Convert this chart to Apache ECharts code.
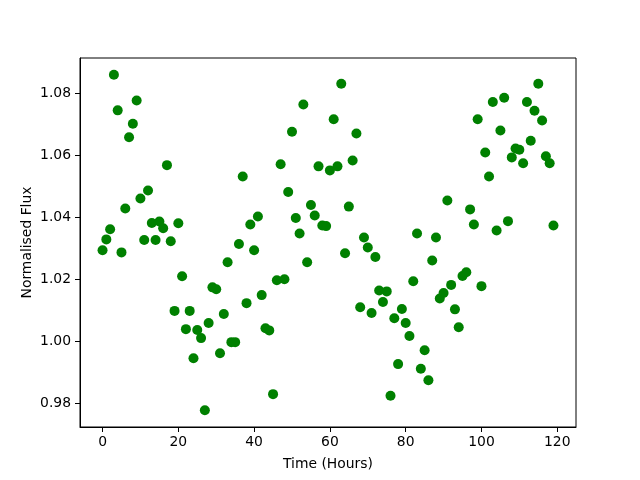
<!DOCTYPE html>
<html>
<head>
<meta charset="utf-8">
<script src="https://cdn.jsdelivr.net/npm/echarts@6/dist/echarts.min.js"></script>
<style>
  html, body { margin: 0; padding: 0; background: #fff; }
  #chart { width: 640px; height: 480px; }
</style>
</head>
<body>
<div id="chart"></div>
<script>
// time of each measurement (hours)
var hours = [
  0, 1, 2, 3, 4, 5, 6, 7, 8, 9, 10, 11, 12, 13, 14, 15, 16, 17, 18, 19,
  20, 21, 22, 23, 24, 25, 26, 27, 28, 29, 30, 31, 32, 33, 34, 35, 36, 37, 38, 39,
  40, 41, 42, 43, 44, 45, 46, 47, 48, 49, 50, 51, 52, 53, 54, 55, 56, 57, 58, 59,
  60, 61, 62, 63, 64, 65, 66, 67, 68, 69, 70, 71, 72, 73, 74, 75, 76, 77, 78, 79,
  80, 81, 82, 83, 84, 85, 86, 87, 88, 89, 90, 91, 92, 93, 94, 95, 96, 97, 98, 99,
  100, 101, 102, 103, 104, 105, 106, 107, 108, 109, 110, 111, 112, 113, 114, 115, 116, 117, 118, 119
];
// normalised flux
var flux = [
  1.0294, 1.0329, 1.0362, 1.0861, 1.0746, 1.0287, 1.0429, 1.0659, 1.0703, 1.0778,
  1.0461, 1.0327, 1.0487, 1.0382, 1.0327, 1.0387, 1.0365, 1.0569, 1.0323, 1.0098,
  1.0381, 1.0210, 1.0039, 1.0098, 0.9945, 1.0036, 1.0010, 0.9777, 1.0059, 1.0174,
  1.0168, 0.9961, 1.0088, 1.0255, 0.9997, 0.9997, 1.0314, 1.0532, 1.0123, 1.0377,
  1.0294, 1.0403, 1.0149, 1.0042, 1.0035, 0.9829, 1.0197, 1.0572, 1.0200, 1.0482,
  1.0677, 1.0398, 1.0348, 1.0765, 1.0255, 1.0440, 1.0406, 1.0565, 1.0374, 1.0372,
  1.0552, 1.0717, 1.0565, 1.0832, 1.0284, 1.0435, 1.0584, 1.0671, 1.0110, 1.0335,
  1.0303, 1.0091, 1.0272, 1.0164, 1.0127, 1.0161, 0.9824, 1.0074, 0.9926, 1.0104,
  1.0059, 1.0017, 1.0194, 1.0348, 0.9911, 0.9971, 0.9874, 1.0261, 1.0335, 1.0138,
  1.0156, 1.0455, 1.0182, 1.0103, 1.0045, 1.0211, 1.0223, 1.0426, 1.0377, 1.0717,
  1.0178, 1.0610, 1.0532, 1.0773, 1.0358, 1.0681, 1.0787, 1.0388, 1.0594, 1.0623,
  1.0619, 1.0575, 1.0773, 1.0648, 1.0745, 1.0832, 1.0713, 1.0598, 1.0575, 1.0374
];
var xTicks = [0, 20, 40, 60, 80, 100, 120];
var yTicks = [0.98, 1.00, 1.02, 1.04, 1.06, 1.08];

var points = hours.map(function (h, i) { return [h, flux[i]]; });

var font = "DejaVu Sans";
var chart = echarts.init(document.getElementById("chart"));
var option = {
  animation: false,
  backgroundColor: "#fff",
  grid: {
    // matplotlib default axes box
    left: 80, right: 64, top: 58, bottom: 53,
    show: true, borderColor: "#000", borderWidth: 1,
    containLabel: false
  },
  xAxis: {
    type: "value",
    min: -5.95, max: 124.95,
    name: "Time (Hours)",
    nameLocation: "middle",
    nameGap: 30,
    nameTextStyle: { fontFamily: font, fontSize: 13.9, color: "#000" },
    axisLine: { show: true, onZero: false, lineStyle: { color: "#000", width: 1 } },
    axisTick: { show: true, length: 5, customValues: xTicks, lineStyle: { color: "#000" } },
    axisLabel: { customValues: xTicks, margin: 8, fontFamily: font, fontSize: 13.9, color: "#000" },
    splitLine: { show: false }
  },
  yAxis: {
    type: "value",
    min: 0.97228, max: 1.09152,
    name: "Normalised Flux",
    nameLocation: "middle",
    nameGap: 46,
    nameMoveOverlap: false,
    nameTextStyle: { fontFamily: font, fontSize: 13.9, color: "#000" },
    axisLine: { show: true, onZero: false, lineStyle: { color: "#000", width: 1 } },
    axisTick: { show: true, length: 5, customValues: yTicks, lineStyle: { color: "#000" } },
    axisLabel: {
      customValues: yTicks, margin: 9, fontFamily: font, fontSize: 13.9, color: "#000",
      formatter: function (v) { return v.toFixed(2); }
    },
    splitLine: { show: false }
  },
  series: [
    {
      type: "scatter",
      data: points,
      symbol: "circle",
      symbolSize: 10,
      itemStyle: { color: "#008000", opacity: 1 }
    }
  ]
};
chart.setOption(option);
</script>
</body>
</html>
